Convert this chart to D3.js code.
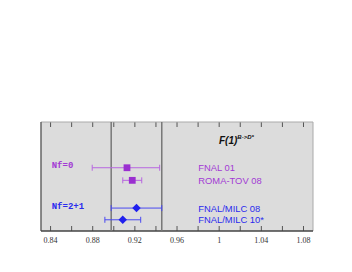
<!DOCTYPE html>
<html>
<head>
<meta charset="utf-8">
<script src="https://cdn.jsdelivr.net/npm/d3@7"></script>
<style>
body { margin: 0; background: #fff; }
</style>
</head>
<body>
<svg width="352" height="272"></svg>
<script>
// values
var names = ["FNAL 01", "ROMA-TOV 08", "FNAL/MILC 08", "FNAL/MILC 10*"];
var centers = [0.913, 0.918, 0.922, 0.909];
var lows = [0.880, 0.909, 0.898, 0.892];
var highs = [0.944, 0.927, 0.946, 0.926];
var groups = ["nf0", "nf0", "nf21", "nf21"];
var rows = [0, 1, 3.2, 4.13];
var bandLines = [0.898, 0.946];
var tickVals = [0.84, 0.88, 0.92, 0.96, 1, 1.04, 1.08];
var minorVals = d3.range(0.84, 1.09, 0.02);
var groupNames = ["Nf=0", "Nf=2+1"];
var groupRows = [-0.24, 3.0];
var groupKeys = ["nf0", "nf21"];

var colour = {nf0: "#9a2fd0", nf21: "#2020ee"};
var lineColour = {nf0: "#b866e0", nf21: "#4a4af0"};
var textColour = {nf0: "#a23ad4", nf21: "#2a2aee"};

var svg = d3.select("svg");
var MARGIN = {top: 122, right: 39, bottom: 41, left: 41};
var WIDTH = 352 - MARGIN.left - MARGIN.right;
var HEIGHT = 272 - MARGIN.top - MARGIN.bottom;

var g = svg.append("g")
    .attr("transform", "translate(" + MARGIN.left + "," + MARGIN.top + ")");

var x = d3.scaleLinear().domain([0.8314, 1.0895]).range([0, WIDTH]);
var y = d3.scaleLinear().domain([-3.63, 5.02]).range([0, HEIGHT]);

g.append("rect")
    .attr("width", WIDTH).attr("height", HEIGHT)
    .attr("fill", "#dcdcdc");

// ticks, top and bottom
g.append("g")
    .attr("transform", "translate(0," + HEIGHT + ")")
    .call(d3.axisBottom(x).tickValues(minorVals).tickSize(-5).tickFormat(""))
    .call(a => a.select(".domain").remove())
    .selectAll("line").attr("stroke", "#555");
g.append("g")
    .call(d3.axisTop(x).tickValues(minorVals).tickSize(-5).tickFormat(""))
    .call(a => a.select(".domain").remove())
    .selectAll("line").attr("stroke", "#555");

var xAxis = g.append("g")
    .attr("transform", "translate(0," + HEIGHT + ")")
    .call(d3.axisBottom(x).tickValues(tickVals).tickSize(0).tickPadding(6)
        .tickFormat(d => d3.format("")(+d.toFixed(2))));
xAxis.select(".domain").remove();
xAxis.selectAll("text")
    .attr("font-family", "Liberation Serif, DejaVu Serif, serif")
    .attr("font-size", 8)
    .attr("fill", "#333");

// frame
g.append("line").attr("x1", 0).attr("x2", WIDTH).attr("y1", 0).attr("y2", 0)
    .attr("stroke", "#aaa").attr("stroke-width", 1);
g.append("line").attr("x1", WIDTH).attr("x2", WIDTH).attr("y1", 0).attr("y2", HEIGHT)
    .attr("stroke", "#aaa").attr("stroke-width", 1);
g.append("line").attr("x1", 0).attr("x2", 0).attr("y1", 0).attr("y2", HEIGHT)
    .attr("stroke", "#666").attr("stroke-width", 1.5);
g.append("line").attr("x1", 0).attr("x2", WIDTH).attr("y1", HEIGHT).attr("y2", HEIGHT)
    .attr("stroke", "#444").attr("stroke-width", 1.5);

// band
g.selectAll(".band")
    .data(bandLines)
    .enter().append("line")
    .attr("x1", d => x(d)).attr("x2", d => x(d))
    .attr("y1", 0).attr("y2", HEIGHT)
    .attr("stroke", "#777").attr("stroke-width", 1.5);

var pts = names.map((n, i) => ({name: n, c: centers[i], lo: lows[i], hi: highs[i], grp: groups[i], row: rows[i]}));

var pt = g.selectAll(".pt").data(pts).enter().append("g");
pt.append("line")
    .attr("x1", d => x(d.lo)).attr("x2", d => x(d.hi))
    .attr("y1", d => y(d.row)).attr("y2", d => y(d.row))
    .attr("stroke", d => lineColour[d.grp]).attr("stroke-width", 1);
pt.selectAll(".cap").data(d => [d.lo, d.hi].map(v => ({v: v, d: d})))
    .enter().append("line")
    .attr("x1", e => x(e.v)).attr("x2", e => x(e.v))
    .attr("y1", e => y(e.d.row) - 3).attr("y2", e => y(e.d.row) + 3)
    .attr("stroke", e => lineColour[e.d.grp]).attr("stroke-width", 1);
pt.append("path")
    .attr("transform", d => "translate(" + x(d.c) + "," + y(d.row) + ")" + (d.grp == "nf21" ? " rotate(45)" : ""))
    .attr("d", d => d.grp == "nf21" ? "M-3,-3H3V3H-3Z" : "M-3.4,-3.4H3.4V3.4H-3.4Z")
    .attr("fill", d => colour[d.grp]);

g.selectAll(".lbl").data(pts).enter().append("text")
    .attr("x", 157.3)
    .attr("y", d => y(d.row) + 3.5)
    .attr("font-family", "Liberation Sans, Arial, sans-serif")
    .attr("font-size", 9.4)
    .attr("fill", d => textColour[d.grp])
    .text(d => d.name);

// group labels
g.selectAll(".grp").data(groupNames).enter().append("text")
    .attr("x", 10.7)
    .attr("y", (d, i) => y(groupRows[i]) + 3)
    .attr("font-family", "Liberation Mono, Courier New, monospace")
    .attr("font-weight", "bold")
    .attr("font-size", 9)
    .attr("fill", (d, i) => textColour[groupKeys[i]])
    .text(d => d);

// title
var title = g.append("text")
    .attr("x", 178).attr("y", 22)
    .attr("font-family", "Liberation Sans, Arial, sans-serif")
    .attr("font-weight", "bold").attr("font-style", "italic")
    .attr("font-size", 10).attr("fill", "#111");
title.append("tspan").text("F(1)");
title.append("tspan").attr("dy", -5).attr("font-size", 6).text("B->D*");
</script>
</body>
</html>
